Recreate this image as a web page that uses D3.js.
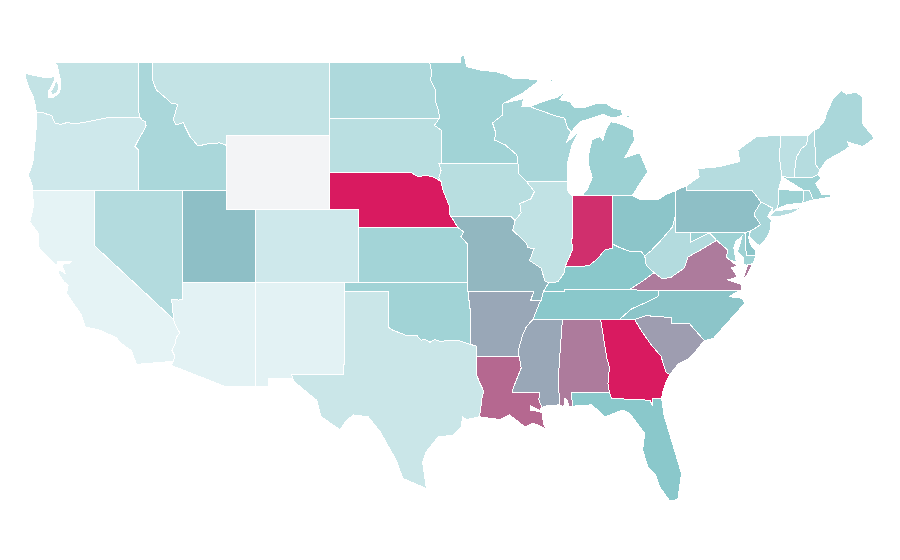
<!DOCTYPE html>
<html><head><meta charset="utf-8">
<script src="https://cdn.jsdelivr.net/npm/d3@7/dist/d3.min.js"></script>
<style>html,body{margin:0;padding:0;background:#fff}svg{display:block}</style>
</head><body><svg id="map" width="900" height="560"></svg>
<script>
const stateNames=["WA","OR","CA","NV","ID","MT","WY","UT","AZ","NM","CO","ND","SD","NE","KS","OK","TX","MN","IA","MO","AR","LA","MS","AL","TN","KY","IL","IN","WI","MI","OH","GA","FL","SC","NC","VA","WV","PA","NY","NJ","ME","VT","NH","MA","CT","RI","MD","DE"];
const stateValues=[25,20,10,32,36,25,0,52.5,11,11,20,34,29,100,39,40,22,40,30,55,59.5,77.5,59.5,72,50,50,26,94,37,42,51,100,50,62.5,51,72,32,52.5,31,37,36,27.5,31,41,41,37,41,51];
const colorDomain=[0,10,50,100];
const colorRange=["#f3f4f6","#e5f3f5","#8ac8cb","#d91a60"];

// Shared boundary lines, lon/lat pairs
const lines={
waCoast:[-122.76,49,-122.5,48.75,-122.47,48.47,-122.33,48.1,-122.33,47.57,-122.38,47.33,-122.8,47.08,-123.15,47.05,-123.15,47.4,-122.95,47.65,-122.75,48,-122.7,48.2,-123.37,48.15,-124.2,48.28,-124.73,48.38,-124.65,48,-124.4,47.48,-124.17,47.1,-124.05,46.7,-123.95,46.27],
waOr:[-123.95,46.27,-123.5,46.25,-123.2,46.15,-122.9,46.08,-122.8,45.85,-122.7,45.68,-122.3,45.6,-121.9,45.7,-121.2,45.65,-120.6,45.73,-119.9,45.85,-119.3,45.93,-119,46,-116.92,46],
waId:[-117.04,49,-117.04,46.42,-116.92,46],
orCoast:[-123.95,46.27,-123.95,45.8,-124,45,-124.1,44.3,-124.2,43.5,-124.5,42.85,-124.25,42.3,-124.2,42],
orCa:[-124.2,42,-120,42],
orNv:[-120,42,-117.03,42],
orId:[-116.92,46,-116.78,45.85,-116.53,45.75,-116.5,45.55,-116.7,45.2,-116.9,44.95,-117.26,44.4,-117,44.2,-117.03,43.83,-117.03,42],
idNv:[-117.03,42,-114.05,42],
idUt:[-114.05,42,-111.05,42],
idWy:[-111.05,42,-111.05,44.47],
idMt:[-116.05,49,-116.05,48,-115.8,47.48,-115.1,47,-114.8,46.75,-114.35,46.7,-114.65,45.85,-114.45,45.57,-113.97,45.7,-113.8,45.4,-113.5,44.93,-112.96,44.43,-112.3,44.55,-111.5,44.6,-111.05,44.47],
mtWy:[-111.05,44.47,-111.05,45,-104.05,45],
wySd:[-104.05,45,-104.05,43],
wyNe:[-104.05,43,-104.05,41],
wyCo:[-104.05,41,-109.05,41],
wyUt:[-109.05,41,-111.05,41,-111.05,42],
mtNd:[-104.05,49,-104.05,45.94],
mtSd:[-104.05,45.94,-104.05,45],
caCoast:[-124.2,42,-124.17,41.1,-124.4,40.3,-123.83,39.68,-123.83,38.95,-123.1,38.3,-122.58,37.95,-122.5,38.15,-121.6,38.15,-121.75,38.03,-122.25,38,-122,37.5,-122.4,37.7,-122.45,37.5,-122.1,37.05,-121.8,36.87,-121.9,36.4,-120.9,35.25,-120.65,34.6,-119.6,34.4,-118.5,34,-118.3,33.75,-117.5,33.3,-117.15,32.55],
caNv:[-120,42,-120,39,-114.63,35],
caAz:[-114.63,35,-114.57,34.8,-114.2,34.25,-114.43,34.05,-114.55,33.6,-114.75,33.33,-114.55,33,-114.65,32.72],
nvUt:[-114.05,42,-114.05,37],
nvAz:[-114.05,37,-114.05,36.1,-114.3,36.05,-114.76,36.1,-114.7,35.6,-114.63,35],
utCo:[-109.05,41,-109.05,37],
utAz:[-109.05,37,-114.05,37],
azMex:[-114.65,32.72,-114.8,32.5,-111.07,31.33,-109.05,31.33],
azNm:[-109.05,31.33,-109.05,37],
neCo:[-104.05,41,-102.05,41,-102.05,40],
coKs:[-102.05,40,-102.05,37],
neKs:[-102.05,40,-95.3,40],
ksMo:[-95.3,40,-94.9,39.75,-95.1,39.5,-94.65,39.1,-94.62,37],
neSd:[-104.05,43,-98.5,43,-98,42.75,-97.5,42.85,-97,42.75,-96.45,42.5],
neIa:[-96.45,42.5,-96.3,42,-96.1,41.6,-95.9,41.2,-95.85,40.7,-95.77,40.6],
neMo:[-95.77,40.6,-95.3,40],
ndSd:[-104.05,45.94,-96.56,45.94],
sdMn:[-96.56,45.94,-96.9,45.55,-96.45,45.3,-96.45,43.5],
sdIa:[-96.45,43.5,-96.6,43.5,-96.45,43.1,-96.6,42.7,-96.45,42.5],
ndMn:[-97.23,49,-97.1,48.5,-97.15,48,-96.85,47.5,-96.85,46.9,-96.6,46.3,-96.56,45.94],
mnShore:[-97.23,49,-95.15,49,-95.06,49.38,-94.85,49.33,-94.72,48.75,-93.8,48.56,-92.7,48.47,-92,48.3,-91.55,48.1,-90.75,48.1,-89.74,48,-90.9,47.3,-92.2,46.76],
mnWi:[-92.2,46.76,-92.3,46.65,-92.3,46.1,-92.95,45.68,-92.75,45.2,-92.8,44.75,-92.1,44.5,-91.3,43.95,-91.22,43.5],
mnIa:[-96.45,43.5,-91.22,43.5],
iaWi:[-91.22,43.5,-91.15,42.9,-90.65,42.5],
iaIl:[-90.65,42.5,-90.1,41.95,-90.35,41.55,-91.1,41.3,-91,40.8,-91.42,40.38],
iaMo:[-91.42,40.38,-91.7,40.6,-95.77,40.6],
moIl:[-91.42,40.38,-91.58,39.85,-90.65,39.15,-90.55,38.9,-90.13,38.85,-90.43,38.2,-89.63,37.77,-89.4,37.1,-89.15,36.98],
kyMo:[-89.15,36.98,-89.5,36.5],
tnMo:[-89.5,36.5,-89.65,36],
moAr:[-89.65,36,-90.37,36,-90.15,36.5,-94.62,36.5],
okAr:[-94.62,36.5,-94.45,35.4,-94.48,33.64],
okTx:[-100,36.5,-100,34.56,-99.7,34.4,-99.2,34.25,-98.9,34.15,-98.5,34.1,-98.1,34.13,-97.8,33.87,-97.5,33.9,-97.2,33.75,-96.9,33.9,-96.5,33.8,-96,33.85,-95.3,33.87,-94.9,33.75,-94.48,33.64],
txAr:[-94.48,33.64,-94.04,33.55,-94.04,33],
arLa:[-94.04,33,-91.15,33],
txLa:[-94.04,33,-94.04,32,-93.85,31.6,-93.55,31.1,-93.7,30.6,-93.75,30.1,-93.85,29.7],
txCoast:[-93.85,29.7,-94.7,29.55,-95,29.7,-95.05,29.15,-95.65,28.7,-96.65,28.6,-97.45,27.8,-97.7,27.25,-97.45,25.8,-99.05,26.35,-99.5,27.35,-100.6,28.9,-101.4,29.7,-102.4,29.8,-102.9,29.5,-103.3,29,-104.6,29.7,-104.9,30.6,-106.05,31.35,-106.5,31.7],
tnAr:[-89.65,36,-89.75,35.9,-90.1,35.2,-90.2,35],
arMs:[-90.2,35,-90.65,34.6,-90.9,34.15,-91.15,33.45,-91.15,33],
laMs:[-91.15,33,-91.1,32.8,-91,32.35,-91.55,31.25,-91.6,31,-89.75,31,-89.8,30.65,-89.6,30.2],
laCoast:[-89.6,30.2,-89.75,30.05,-90.4,30.3,-90.4,30.05,-89.85,30,-89.55,29.9,-89.5,29.3,-89.2,29,-89.7,29.2,-90.2,29.35,-90.75,29.15,-91.3,29.5,-91.8,29.8,-92.45,29.55,-93.85,29.7],
msAl:[-88.2,35,-88.47,31.9,-88.4,30.35],
msCoast:[-88.4,30.35,-89.3,30.3,-89.6,30.2],
alGa:[-85.6,35,-85.18,32.87,-85,32.4,-85.1,31.5,-85,31],
alFl:[-85,31,-87.6,31,-87.5,30.28],
alCoast:[-87.5,30.28,-87.75,30.28,-87.9,30.65,-88.05,30.7,-88.1,30.25,-88.4,30.35],
gaSc:[-83.3,35,-82.85,34.4,-82.15,33.6,-81.5,33,-81.15,32.1,-80.9,32],
gaCoast:[-80.9,32,-81.2,31.5,-81.4,31,-81.45,30.7],
gaFl:[-81.45,30.7,-82.05,30.7,-82.1,30.35,-82.25,30.6,-84.86,30.7,-85,31],
flCoast:[-87.5,30.28,-86.2,30.35,-85.3,29.7,-84.1,30.07,-83.65,29.9,-82.6,28.8,-82.75,27.9,-82.4,27,-81.9,26.6,-81.6,25.9,-80.9,25.12,-80.35,25.2,-80.1,26.6,-80.7,28.2,-81.3,29.8,-81.45,30.7],
scNc:[-83.3,35,-82.5,35.2,-80.8,35.1,-80.77,34.8,-79.6,34.8,-78.55,33.85],
scCoast:[-78.55,33.85,-79.1,33.3,-79.55,32.9,-80.35,32.55,-80.9,32],
ncCoast:[-78.55,33.85,-77.95,33.95,-77.4,34.45,-76.83,34.96,-76.38,35.34,-75.8,35.9,-76,36.15,-76.83,36.23,-76.5,36.43,-76.05,36.58],
vaNc:[-76.05,36.58,-81.68,36.59],
tnVa:[-83.68,36.6,-81.68,36.59],
tnNc:[-81.68,36.59,-81.7,36.25,-82.05,36.1,-82.85,35.8,-83.5,35.57,-84.1,35.15,-84.32,35],
tnKy:[-89.5,36.5,-88.07,36.5,-88.07,36.65,-83.68,36.6],
ilKy:[-89.15,36.98,-88.5,37.05,-88.1,37.5,-88,37.9],
inKy:[-88,37.9,-87,37.85,-86.35,37.95,-85.8,38.3,-85.33,38.77,-84.8,38.88,-84.8,39.1],
ohKy:[-84.8,39.1,-84.3,38.9,-83.6,38.7,-82.85,38.7,-82.6,38.45],
kyWv:[-82.6,38.45,-82.5,37.95,-81.97,37.54],
kyVa:[-81.97,37.54,-82.7,37.1,-83.68,36.6],
wiIl:[-90.65,42.5,-87.85,42.5],
ilShore:[-87.85,42.5,-87.85,42,-87.53,41.7],
ilIn:[-87.53,41.7,-87.53,39.4,-87.6,39.4,-87.5,38.8,-88,37.9],
inShore:[-87.53,41.7,-87.2,41.75,-86.82,41.76],
inMi:[-86.82,41.76,-84.8,41.75],
inOh:[-84.8,41.75,-84.8,39.1],
miOh:[-84.8,41.75,-83.45,41.73],
ohShore:[-83.45,41.73,-83,41.55,-82.7,41.5,-81.7,41.5,-81.2,41.78,-80.52,42],
ohPa:[-80.52,42,-80.52,40.63],
ohWv:[-80.52,40.63,-80.7,40.05,-81.5,39.3,-82.15,38.75,-82.6,38.45],
lpWest:[-86.82,41.76,-86.5,42.1,-86.17,42.7,-86.45,43.5,-86.45,43.85,-86.2,44.75,-85.67,44.95,-85.45,44.75,-85.2,45.4,-84.9,45.75,-84.3,45.65,-83.4,45.3,-83.3,44.75,-83.95,43.8,-83.4,43.95,-82.95,44.07,-82.4,43.03,-82.85,42.5,-83.15,42.1,-83.45,41.73],
wiSuperior:[-92.2,46.76,-90.85,47,-90.95,46.6,-90.42,46.57],
wiMi:[-90.42,46.57,-88.7,46.08,-88.05,45.95,-87.85,45.4,-87.6,45.2],
wiShore:[-87.6,45.2,-87.95,44.6,-87.05,45.25,-87.55,44.45,-87.85,43.5,-87.85,42.5],
upShore:[-87.6,45.2,-87,45.75,-86.6,45.85,-85.45,46.15,-84.75,45.95,-84.1,46.1,-84.2,46.4,-84.8,46.5,-85.2,46.75,-85.9,46.75,-86.6,46.55,-87.35,46.5,-87.7,46.85,-88.4,46.95,-87.85,47.47,-88.5,47.1,-89.5,46.85,-90.42,46.57],
wvMd:[-79.48,39.72,-79.48,39.2,-78.75,39.5,-78.2,39.7,-77.72,39.3],
wvVa:[-77.72,39.3,-78.75,38.8,-79.65,38.4,-79.9,37.8,-80.8,37.3,-81.4,37.2,-81.97,37.54],
vaMd:[-77.72,39.3,-76.95,38.77,-77.05,38.4,-76.85,38.25],
vaBay:[-76.85,38.25,-76.3,37.9,-76.7,37.8,-76.3,37.3,-76.95,37.15,-76.05,36.9,-76.05,36.58],
mdDe:[-75.79,39.72,-75.7,38.46,-75.05,38.45],
paNy:[-79.76,42,-75.3,42,-75,41.7,-74.7,41.38],
paNj:[-74.7,41.38,-75.1,40.85,-75.15,40.65,-74.72,40.15,-75.42,39.8],
njNy:[-74.7,41.38,-73.9,41.05],
nyVt:[-73.35,45,-73.45,43.8,-73.27,42.75],
nyMa:[-73.27,42.75,-73.5,42.05],
nyCt:[-73.5,42.05,-73.5,41.3,-73.65,41],
vtNh:[-71.5,45,-71.6,44.5,-71.95,44.3,-72.3,43.8,-72.46,42.73],
nhMe:[-71.08,45.3,-70.97,43.4,-70.7,43.1],
meCoast:[-71.08,45.3,-70.8,45.4,-70.4,45.8,-70.2,46.3,-69.8,47,-69.25,47.47,-68.9,47.25,-68.25,47.35,-67.8,47.1,-67.8,45.66,-67.35,45.2,-66.98,44.85,-67.8,44.4,-68.8,44.65,-68.7,44.4,-69,44.2,-70.25,43.65,-70.7,43.1]
};

// State rings: a name is a boundary line, "-name" the same line reversed, an array is extra vertices
const rings={
WA:[["waCoast","waOr","-waId"],[[-122.62,48,-122.45,47.75,-122.5,47.38,-122.85,47.2,-122.98,47.4,-122.78,47.65]]],
OR:[["orCoast","orCa","orNv","-orId","-waOr"]],
CA:[["orCa","caNv","caAz","-caCoast"]],
NV:[["orNv","idNv","nvUt","nvAz","-caNv"]],
ID:[["waId","orId","idNv","idUt","idWy","-idMt"]],
MT:[["idMt","mtWy","-mtSd","-mtNd"]],
WY:[["mtWy","wySd","wyNe","wyCo","wyUt","idWy"]],
UT:[["idUt","-wyUt","utCo","utAz","-nvUt"]],
AZ:[["nvAz","caAz","azMex","azNm","utAz"]],
NM:[[[-109.05,37,-103,37,-103,36.5,-103.05,32,-106.62,32,-106.53,31.78,-108.2,31.78,-108.2,31.33,-109.05,31.33]]],
CO:[["-wyCo","neCo","coKs",[-109.05,37]]],
ND:[["mtNd","ndSd","-ndMn"]],
SD:[["-mtSd","ndSd","sdMn","sdIa","-neSd","-wySd"]],
NE:[["neSd","neIa","neMo","-neKs",[-102.05,41,-104.05,41]]],
KS:[["neKs","ksMo",[-102.05,37]]],
OK:[[[-103,37,-94.62,37],"okAr","-okTx",[-103,36.5]]],
TX:[[[-103,36.5],"okTx","txAr","txLa","txCoast",[-106.53,31.78,-106.62,32,-103.05,32]]],
MN:[["ndMn","sdMn","mnIa","-mnWi","-mnShore"]],
IA:[["mnIa","iaWi","iaIl","iaMo","-neIa","-sdIa"]],
MO:[["-iaMo","moIl","kyMo","tnMo","moAr",[-94.62,37],"-ksMo","-neMo"]],
AR:[["moAr","okAr","txAr","arLa","-arMs","-tnAr"]],
LA:[["arLa","laMs","laCoast","-txLa"]],
MS:[[[-90.2,35],"msAl","msCoast","-laMs","-arMs"]],
AL:[["alGa","alFl","alCoast","-msAl"]],
TN:[["tnKy","tnVa","tnNc",[-85.6,35,-88.2,35,-90.2,35],"-tnAr","-tnMo"]],
KY:[["ilKy","inKy","ohKy","kyWv","kyVa","-tnKy","-kyMo"]],
IL:[["wiIl","ilShore","ilIn","-ilKy","-moIl","-iaIl"]],
IN:[["inShore","inMi","inOh","-inKy","-ilIn"]],
WI:[["wiSuperior","wiMi","wiShore","-wiIl","-iaWi","-mnWi"]],
MI:[["lpWest","-miOh","-inMi"],["wiMi","upShore"],[[-89.1,48,-88.6,48.12,-88.9,47.95]],[[-83.95,46.05,-83.6,46.1,-83.7,45.97]]],
OH:[["miOh","ohShore","ohPa","ohWv","-ohKy","-inOh"]],
GA:[[[-85.6,35,-84.32,35],"gaSc","gaCoast","gaFl","-alGa"]],
FL:[["flCoast","gaFl","alFl"]],
SC:[["scNc","scCoast","-gaSc"]],
NC:[["tnNc","scNc","ncCoast","vaNc"]],
VA:[["-wvVa","vaMd","vaBay","vaNc","-tnVa","-kyVa"],[[-75.95,37.15,-75.6,37.95,-75.25,38.03,-75.65,37.4]]],
WV:[["-ohWv",[-80.52,39.72],"wvMd","wvVa","-kyWv"]],
PA:[["ohPa",[-80.52,39.72,-75.79,39.72],"-paNj","-paNy",[-79.76,42.27]]],
NY:[[[-79.76,42.27,-78.9,42.75,-79,43.2,-77.6,43.3,-76.15,43.58,-76.27,44.2,-75,44.95],"nyVt","nyMa","nyCt",[-73.95,40.75],"-njNy","-paNy"],[[-74.1,40.6,-73.75,40.9,-72.6,41,-72,41.08,-72.5,40.8,-73.5,40.58]]],
NJ:[["-paNj","njNy",[-74.25,40.6,-74,40.4,-74.1,39.75,-74.35,39.4,-74.8,39,-75.1,39.2,-75.5,39.5]]],
ME:[["meCoast","-nhMe"]],
VT:[[[-73.35,45],"vtNh",[-73.27,42.75],"-nyVt"]],
NH:[[[-71.5,45],"nhMe",[-70.85,42.87,-71.3,42.7],"-vtNh"]],
MA:[["nyMa",[-73.27,42.75,-72.46,42.73,-71.3,42.7,-70.85,42.87,-70.6,42.65,-71,42.4,-70.7,42,-70.55,41.77,-70,41.78,-70,41.65,-70.7,41.55,-71.15,41.5,-71.4,42,-71.8,42.02]],[[-70.78,41.4,-70.5,41.42,-70.55,41.35]],[[-70.2,41.3,-69.98,41.3,-70.05,41.24]]],
CT:[[[-73.5,42.05,-71.8,42.02,-71.85,41.32,-72.9,41.25],"-nyCt"]],
RI:[[[-71.8,42.02,-71.4,42,-71.15,41.5,-71.4,41.45,-71.85,41.32]]],
MD:[[[-79.48,39.72],"mdDe",[-75.25,38.03,-75.65,37.95,-75.9,37.98,-75.85,38.35,-76.3,38.7,-76.15,39.05,-76,39.5,-76.4,39.25,-76.55,38.9,-76.45,38.4,-76.35,38.1],"-vaMd","-wvMd"]],
DE:[["-mdDe",[-75.42,39.8,-75.55,39.45,-75.4,39.05,-75.1,38.75]]]
};

const xScale=d3.scaleLinear().domain([-124.73,-66.95]).range([25,875]);
const yScale=d3.scaleLinear().domain([49,25.12]).range([62,501]);
const color=d3.scaleLinear().domain(colorDomain).range(colorRange).interpolate(d3.interpolateRgb);
const path=d3.geoPath(d3.geoTransform({point(lon,lat){this.stream.point(xScale(lon),yScale(lat));}}));

const pairs=a=>d3.range(0,a.length,2).map(i=>[a[i],a[i+1]]);
function ringPoints(parts){
  const out=[];
  parts.forEach(p=>{
    let pts;
    if(Array.isArray(p)) pts=pairs(p);
    else if(p[0]==="-") pts=pairs(lines[p.slice(1)]).reverse();
    else pts=pairs(lines[p]);
    pts.forEach(q=>{const l=out[out.length-1]; if(!l||l[0]!==q[0]||l[1]!==q[1]) out.push(q);});
  });
  out.push(out[0]);
  return out;
}
const features=stateNames.map((n,i)=>({type:"Feature",properties:{name:n,value:stateValues[i]},
  geometry:{type:"MultiPolygon",coordinates:rings[n].map(r=>[ringPoints(r)])}}));

d3.select("#map").selectAll("path").data(features).join("path")
  .attr("d",path)
  .attr("fill",d=>color(d.properties.value))
  .attr("stroke","#fff").attr("stroke-width",1)
  .attr("shape-rendering","crispEdges")
  .append("title").text(d=>d.properties.name);
</script></body></html>
